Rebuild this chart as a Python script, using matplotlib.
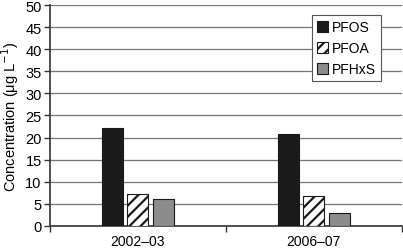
from matplotlib import pyplot as plt
import numpy as np

plt.rcParams['font.family'] = ['Liberation Sans', 'DejaVu Sans']
plt.rcParams['hatch.linewidth'] = 1.6

periods = ['2002\u201303', '2006\u201307']
pfos = [22.2, 20.7]
pfoa = [7.2, 6.8]
pfhxs = [6.0, 3.0]

fig = plt.figure(figsize=(4.03, 2.51), dpi=100)
ax = fig.add_axes([0.124, 0.096, 0.873, 0.880])

x = np.arange(len(periods))
w = 0.12
step = 0.145
ax.bar(x - step, pfos, w, color='#1a1a1a', edgecolor='#1a1a1a', lw=0.8, label='PFOS', zorder=3)
ax.bar(x, pfoa, w, color='white', edgecolor='#1a1a1a', hatch='///', lw=0.8, label='PFOA', zorder=3)
ax.bar(x + step, pfhxs, w, color='#8c8c8c', edgecolor='#1a1a1a', lw=0.8, label='PFHxS', zorder=3)

ax.set_xlim(-0.5, 1.5)
ax.set_ylim(0, 50)
ax.set_yticks(range(0, 51, 5))
ax.set_xticks(x)
ax.set_xticklabels(periods)
ax.set_xticks([-0.5, 0.5, 1.5], minor=True)
ax.tick_params(axis='x', which='major', length=0, pad=6, labelsize=10)
ax.tick_params(axis='x', which='minor', length=4, width=1, color='#333333', direction='out')
ax.tick_params(axis='y', length=4, width=1, color='#333333', labelsize=10.5, pad=2)
ax.yaxis.grid(True, color='#777777', lw=0.9, zorder=0)
ax.set_ylabel('Concentration (\u03bcg L$^{-1}$)', fontsize=10.5, labelpad=3)

for s in ['top', 'right']:
    ax.spines[s].set_visible(False)
ax.spines['left'].set_color('#333333')
ax.spines['bottom'].set_color('#333333')
ax.spines['left'].set_linewidth(1.2)
ax.spines['bottom'].set_linewidth(1.2)

leg = ax.legend(loc='upper right', bbox_to_anchor=(0.96, 0.985), fontsize=10,
                frameon=True, fancybox=False, edgecolor='#555555',
                handlelength=0.8, handleheight=0.8, handletextpad=0.3,
                labelspacing=0.5, borderpad=0.35, framealpha=1)
leg.get_frame().set_linewidth(0.8)

fig.savefig('out.png', dpi=100)
